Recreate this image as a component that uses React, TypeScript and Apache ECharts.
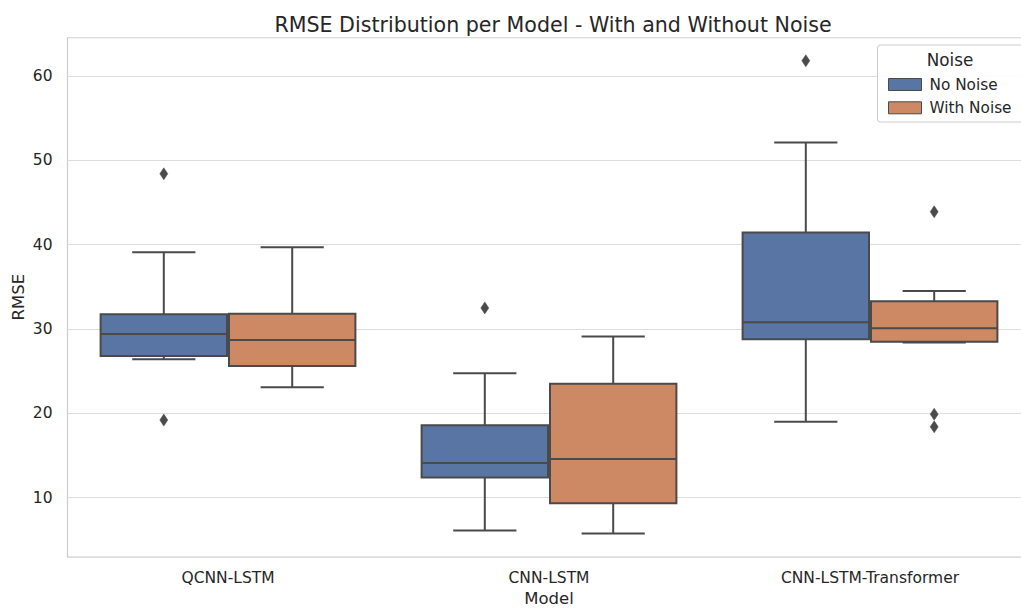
import React, { useEffect, useRef } from "react";
import * as echarts from "echarts";

const categories = ["QCNN-LSTM", "CNN-LSTM", "CNN-LSTM-Transformer"];
const hues = ["No Noise", "With Noise"];
// [lowerWhisker, Q1, median, Q3, upperWhisker]
const noNoiseStats = [
  [26.4, 26.8, 29.4, 31.75, 39.1],
  [6.1, 12.4, 14.1, 18.6, 24.75],
  [19.0, 28.8, 30.8, 41.45, 52.1],
];
const withNoiseStats = [
  [23.1, 25.6, 28.7, 31.8, 39.7],
  [5.75, 9.35, 14.6, 23.5, 29.1],
  [28.4, 28.5, 30.1, 33.3, 34.5],
];
const noNoiseOutliers = [[48.4, 19.2], [32.5], [61.8]];
const withNoiseOutliers = [[], [], [43.9, 19.9, 18.4]];
const yMin = 2.97;
const yMax = 64.56;

const colors = ["#5875a4", "#cc8963"];
const lineColor = "#4a4a4a";
const textColor = "#262626";
const FONT = "DejaVu Sans";

function makeRender(hueIdx: number, outliers: number[][]) {
  return (params: any, api: any) => {
    const cat = api.value(0);
    const band = api.size([1, 0])[0];
    const offset = (hueIdx === 0 ? -0.2 : 0.2) * band;
    const cx = api.coord([cat, 0])[0] + offset;
    const w = 0.4 * band - 2;
    const capW = w / 2;
    const y = (v: number) => api.coord([cat, v])[1];
    const lo = y(api.value(1));
    const q1 = y(api.value(2));
    const med = y(api.value(3));
    const q3 = y(api.value(4));
    const hi = y(api.value(5));
    const ls = { stroke: lineColor, lineWidth: 2 };
    const children: any[] = [
      { type: "line", shape: { x1: cx, y1: q3, x2: cx, y2: hi }, style: ls },
      { type: "line", shape: { x1: cx, y1: q1, x2: cx, y2: lo }, style: ls },
      { type: "line", shape: { x1: cx - capW / 2, y1: hi, x2: cx + capW / 2, y2: hi }, style: ls },
      { type: "line", shape: { x1: cx - capW / 2, y1: lo, x2: cx + capW / 2, y2: lo }, style: ls },
      {
        type: "rect",
        shape: { x: cx - w / 2, y: q3, width: w, height: q1 - q3 },
        style: { fill: colors[hueIdx], stroke: lineColor, lineWidth: 2 },
      },
      { type: "line", shape: { x1: cx - w / 2, y1: med, x2: cx + w / 2, y2: med }, style: ls },
    ];
    (outliers[params.dataIndex] || []).forEach((v) => {
      const oy = y(v);
      children.push({
        type: "polygon",
        shape: { points: [[cx, oy - 6], [cx + 4, oy], [cx, oy + 6], [cx - 4, oy]] },
        style: { fill: lineColor, stroke: lineColor, lineWidth: 0.5 },
      });
    });
    return { type: "group", children };
  };
}

export default function App() {
  const ref = useRef<HTMLDivElement>(null);
  useEffect(() => {
    if (!ref.current) return;
    const chart = echarts.init(ref.current, undefined, { renderer: "svg" });
    const toData = (stats: number[][]) => stats.map((s, i) => [i, ...s]);
    chart.setOption({
      animation: false,
      backgroundColor: "#ffffff",
      textStyle: { fontFamily: FONT },
      title: {
        text: "RMSE Distribution per Model - With and Without Noise",
        left: 548,
        textAlign: "center",
        top: 9,
        textStyle: { fontFamily: FONT, fontSize: 20.6, fontWeight: "normal", color: textColor },
      },
      grid: {
        left: 67.5,
        top: 37.5,
        width: 963,
        height: 519.5,
        outerBoundsMode: "none",
        containLabel: false,
        show: true,
        borderColor: "#cccccc",
        borderWidth: 1.25,
        backgroundColor: "transparent",
      },
      xAxis: {
        type: "category",
        data: categories,
        boundaryGap: true,
        name: "Model",
        nameLocation: "middle",
        nameGap: 33,
        nameMoveOverlap: false,
        nameTextStyle: { fontFamily: FONT, fontSize: 16.5, color: textColor },
        axisLine: { show: false },
        axisTick: { show: false },
        splitLine: { show: false },
        axisLabel: { fontFamily: FONT, fontSize: 15.5, color: textColor, margin: 13 },
      },
      yAxis: {
        type: "value",
        min: yMin,
        max: yMax,
        name: "RMSE",
        nameLocation: "middle",
        nameGap: 41,
        nameMoveOverlap: false,
        nameTextStyle: { fontFamily: FONT, fontSize: 16.5, color: textColor },
        axisLine: { show: false },
        axisTick: { show: false },
        splitLine: { show: true, lineStyle: { color: "#dddddd", width: 1.2 } },
        axisLabel: {
          fontFamily: FONT,
          fontSize: 15.5,
          color: textColor,
          margin: 15,
          showMinLabel: false,
          showMaxLabel: false,
          formatter: (v: number) => String(Math.round(v)),
        },
      },
      legend: {
        orient: "vertical",
        left: 883,
        top: 71,
        z: 10,
        itemWidth: 33,
        itemHeight: 12,
        itemGap: 6.3,
        icon: "rect",
        data: hues,
        itemStyle: { borderColor: lineColor, borderWidth: 1 },
        textStyle: { fontFamily: FONT, fontSize: 15.3, color: textColor, lineHeight: 17, padding: [0, 0, 0, 3] },
      },
      graphic: [
        {
          type: "rect",
          z: 5,
          shape: { x: 877.5, y: 45, width: 160, height: 77, r: 3 },
          style: { fill: "rgba(255,255,255,0.9)", stroke: "#cccccc", lineWidth: 1 },
        },
        {
          type: "text",
          z: 11,
          x: 950,
          y: 60,
          style: {
            text: "Noise",
            fontFamily: FONT,
            fontSize: 16.8,
            fill: textColor,
            align: "center",
            verticalAlign: "middle",
          },
        },
      ],
      series: [
        {
          name: hues[0],
          type: "custom",
          itemStyle: { color: colors[0] },
          encode: { x: 0, y: [1, 2, 3, 4, 5] },
          renderItem: makeRender(0, noNoiseOutliers),
          data: toData(noNoiseStats),
        },
        {
          name: hues[1],
          type: "custom",
          itemStyle: { color: colors[1] },
          encode: { x: 0, y: [1, 2, 3, 4, 5] },
          renderItem: makeRender(1, withNoiseOutliers),
          data: toData(withNoiseStats),
        },
      ],
    });
    return () => chart.dispose();
  }, []);
  return (
    <div
      ref={ref}
      style={{ position: "fixed", left: 0, top: 0, width: 1021, height: 612 }}
    />
  );
}
